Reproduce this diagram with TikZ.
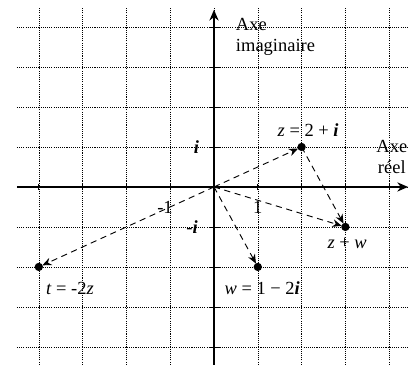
\documentclass[tikz,border=0pt]{standalone}
\usepackage{fontspec}
\setmainfont{Liberation Serif}
\usepackage{tikz}
\usetikzlibrary{arrows.meta}

\tikzset{
    gridline/.style={very thin, dash pattern=on 0.7pt off 0.7pt},
    axisline/.style={thick, -{Stealth[length=7pt, width=6pt]}},
    vecline/.style={semithick, dash pattern=on 4pt off 3pt, -{Stealth[length=6pt, width=5pt]}, shorten >=2.5pt},
    lbl/.style={font=\fontsize{12}{14}\selectfont, inner sep=1pt}
}
\newcommand{\ib}{\textbf{\textit{i}}}

\begin{document}
\begin{tikzpicture}[x=1cm, y=0.913cm]
    \useasboundingbox (-4.886,-4.45) rectangle (4.452,4.675);
    \coordinate (O) at (0,0);
    \coordinate (Z) at (2,1);
    \coordinate (S) at (3,-1);
    \coordinate (W) at (1,-2);
    \coordinate (T) at (-4,-2);
    % grille
    \foreach \k in {-4,...,4} {
        \draw[gridline] (\k,-4.5) -- (\k,4.475);
        \draw[gridline] (-4.5,\k) -- (4.5,\k);
    }
    % axes
    \draw[axisline] (-4.5,0) -- (4.43,0);
    \draw[axisline] (0,-4.5) -- (0,4.43);
    \foreach \k in {-4,...,4} {
        \draw[thin] (\k,-0.08) -- (\k,0.08);
        \draw[thin] (-0.09,\k) -- (0.14,\k);
    }
    % vecteurs
    \draw[vecline] (O) -- (Z);
    \draw[vecline] (Z) -- (S);
    \draw[vecline] (O) -- (S);
    \draw[vecline] (O) -- (W);
    \draw[vecline] (O) -- (T);
    \foreach \p in {Z,S,W,T} {\fill (\p) circle (2.7pt);}
    % textes
    \node[lbl, anchor=west, align=left] (axeim) at (0.46,3.75) {Axe\\imaginaire};
    \node[lbl, align=center] (axere) at (4.06,0.75) {Axe\\réel};
    \node[lbl] (lz) at (2.15,1.43) {\textit{z} = 2 + \ib};
    \node[lbl] (ls) at (3.04,-1.4) {\textit{z} + \textit{w}};
    \node[lbl] (lw) at (1.1,-2.53) {\textit{w} = 1 − 2\ib};
    \node[lbl] (lt) at (-3.29,-2.53) {\textit{t} = -2\textit{z}};
    \node[lbl] (un) at (1,-0.52) {1};
    \node[lbl] (mun) at (-1.12,-0.52) {-1};
    \node[lbl] (li) at (-0.4,1) {\ib};
    \node[lbl] (lmi) at (-0.5,-1) {-\ib};
\end{tikzpicture}
\end{document}
